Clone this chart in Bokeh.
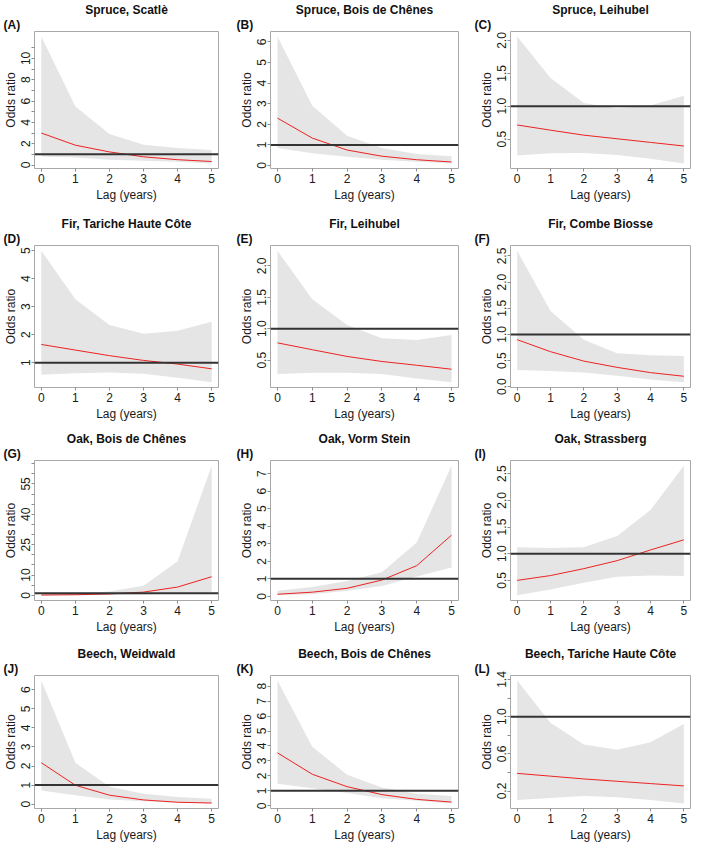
from bokeh.plotting import figure
from bokeh.layouts import gridplot
from bokeh.models import Range1d, FixedTicker, Span, Label
from bokeh.embed import file_html
from bokeh.resources import INLINE

# ---------------- data ----------------
lags = [0, 1, 2, 3, 4, 5]
x_ticks = [0, 1, 2, 3, 4, 5]

letters = ["(A)", "(B)", "(C)", "(D)", "(E)", "(F)",
           "(G)", "(H)", "(I)", "(J)", "(K)", "(L)"]
titles = ["Spruce, Scatlè", "Spruce, Bois de Chênes", "Spruce, Leihubel",
          "Fir, Tariche Haute Côte", "Fir, Leihubel", "Fir, Combe Biosse",
          "Oak, Bois de Chênes", "Oak, Vorm Stein", "Oak, Strassberg",
          "Beech, Weidwald", "Beech, Bois de Chênes", "Beech, Tariche Haute Côte"]

est_a = [3.0, 1.86, 1.23, 0.77, 0.50, 0.33]
lower_a = [0.80, 0.70, 0.50, 0.40, 0.30, 0.15]
upper_a = [12.05, 5.5, 2.9, 1.9, 1.6, 1.4]
yticks_a = [0, 2, 4, 6, 8, 10]
yminor_a = [1, 3, 5, 7, 9, 11]

est_b = [2.30, 1.33, 0.75, 0.45, 0.28, 0.17]
lower_b = [0.85, 0.60, 0.42, 0.28, 0.18, 0.10]
upper_b = [6.26, 2.90, 1.44, 0.85, 0.56, 0.45]
yticks_b = [0, 1, 2, 3, 4, 5, 6]
yminor_b = []

est_c = [0.715, 0.636, 0.56, 0.505, 0.45, 0.395]
lower_c = [0.25, 0.285, 0.29, 0.26, 0.20, 0.13]
upper_c = [2.06, 1.43, 1.05, 0.965, 1.01, 1.16]
yticks_c = [0.5, 1.0, 1.5, 2.0]
yminor_c = []

est_d = [1.65, 1.45, 1.25, 1.08, 0.95, 0.78]
lower_d = [0.57, 0.62, 0.65, 0.60, 0.46, 0.30]
upper_d = [5.0, 3.27, 2.35, 2.03, 2.14, 2.46]
yticks_d = [1, 2, 3, 4, 5]
yminor_d = []

est_e = [0.776, 0.667, 0.56, 0.48, 0.42, 0.357]
lower_e = [0.28, 0.30, 0.30, 0.28, 0.21, 0.15]
upper_e = [2.24, 1.47, 1.06, 0.85, 0.82, 0.90]
yticks_e = [0.5, 1.0, 1.5, 2.0]
yminor_e = []

est_f = [0.90, 0.67, 0.49, 0.37, 0.27, 0.20]
lower_f = [0.32, 0.30, 0.27, 0.21, 0.14, 0.086]
upper_f = [2.60, 1.45, 0.90, 0.64, 0.60, 0.59]
yticks_f = [0.0, 0.5, 1.0, 1.5, 2.0, 2.5]
yminor_f = []

est_g = [0.15, 0.30, 0.70, 1.60, 4.10, 9.20]
lower_g = [0.02, 0.05, 0.20, 0.40, 0.80, 1.50]
upper_g = [0.70, 1.10, 1.90, 4.80, 16.8, 64.0]
yticks_g = [0, 10, 25, 40, 55]
yminor_g = [5, 15, 20, 30, 35, 45, 50, 60, 65]

est_h = [0.12, 0.24, 0.46, 0.93, 1.75, 3.49]
lower_h = [0.06, 0.12, 0.32, 0.59, 1.13, 1.64]
upper_h = [0.32, 0.54, 0.88, 1.38, 3.07, 7.45]
yticks_h = [0, 1, 2, 3, 4, 5, 6, 7]
yminor_h = []

est_i = [0.50, 0.59, 0.72, 0.87, 1.07, 1.26]
lower_i = [0.22, 0.33, 0.455, 0.57, 0.59, 0.58]
upper_i = [1.12, 1.105, 1.12, 1.33, 1.82, 2.65]
yticks_i = [0.5, 1.0, 1.5, 2.0, 2.5]
yminor_i = []

est_j = [2.17, 0.99, 0.47, 0.22, 0.10, 0.06]
lower_j = [0.72, 0.47, 0.25, 0.15, 0.07, 0.03]
upper_j = [6.49, 2.17, 0.91, 0.55, 0.37, 0.28]
yticks_j = [0, 1, 2, 3, 4, 5, 6]
yminor_j = []

est_k = [3.54, 2.11, 1.28, 0.75, 0.43, 0.25]
lower_k = [1.47, 1.17, 0.85, 0.51, 0.34, 0.15]
upper_k = [8.38, 3.95, 2.07, 1.22, 0.81, 0.66]
yticks_k = [0, 1, 2, 3, 4, 5, 6, 7, 8]
yminor_k = []

est_l = [0.39, 0.36, 0.33, 0.305, 0.28, 0.255]
lower_l = [0.104, 0.125, 0.146, 0.134, 0.104, 0.065]
upper_l = [1.39, 0.935, 0.70, 0.645, 0.725, 0.92]
yticks_l = [0.2, 0.6, 1.0, 1.4]
yminor_l = [0.4, 0.8, 1.2]

reference_or = 1.0

panels = [
    (est_a, lower_a, upper_a, yticks_a, yminor_a, "{:g}"),
    (est_b, lower_b, upper_b, yticks_b, yminor_b, "{:g}"),
    (est_c, lower_c, upper_c, yticks_c, yminor_c, "{:.1f}"),
    (est_d, lower_d, upper_d, yticks_d, yminor_d, "{:g}"),
    (est_e, lower_e, upper_e, yticks_e, yminor_e, "{:.1f}"),
    (est_f, lower_f, upper_f, yticks_f, yminor_f, "{:.1f}"),
    (est_g, lower_g, upper_g, yticks_g, yminor_g, "{:g}"),
    (est_h, lower_h, upper_h, yticks_h, yminor_h, "{:g}"),
    (est_i, lower_i, upper_i, yticks_i, yminor_i, "{:.1f}"),
    (est_j, lower_j, upper_j, yticks_j, yminor_j, "{:g}"),
    (est_k, lower_k, upper_k, yticks_k, yminor_k, "{:g}"),
    (est_l, lower_l, upper_l, yticks_l, yminor_l, "{:.1f}"),
]

# ---------------- layout ----------------
FONT = "Liberation Sans"
col_w = [232, 234, 227]
col_left = [32, 38, 44]
col_right = [14, 8, 3]
letter_dx = [-31, -34, -36]
row_h = [214, 215, 215, 200]
row_top = [17, 17, 17, 17]
row_bottom = [46, 42, 44, 34]


def make_panel(k):
    est, lower, upper, yt, ym, fmt = panels[k]
    r, c = divmod(k, 3)
    lo, hi = min(lower), max(upper)
    pad = 0.04 * (hi - lo)
    xpad = 0.04 * (max(lags) - min(lags))
    p = figure(width=col_w[c], height=row_h[r],
               x_range=Range1d(min(lags) - xpad, max(lags) + xpad),
               y_range=Range1d(lo - pad, hi + pad),
               output_backend="svg", toolbar_location=None,
               min_border_left=col_left[c], min_border_right=col_right[c],
               min_border_top=row_top[r], min_border_bottom=row_bottom[r],
               background_fill_color="white", border_fill_color="white")
    p.outline_line_color = "#a8a8a8"
    p.outline_line_width = 1
    p.grid.visible = False

    p.varea(x=lags, y1=lower, y2=upper, fill_color="#e5e5e5", fill_alpha=1.0)
    p.line(x=lags, y=est, line_color="#ee2222", line_width=1)
    p.add_layout(Span(location=reference_or, dimension="width",
                      line_color="#333333", line_width=2))

    for ax in (p.xaxis[0], p.yaxis[0]):
        ax.axis_line_color = None
        ax.major_tick_line_color = "#8c8c8c"
        ax.minor_tick_line_color = "#8c8c8c"
        ax.major_tick_out = 3
        ax.major_tick_in = 0
        ax.minor_tick_out = 3
        ax.minor_tick_in = 0
        ax.major_label_text_font = FONT
        ax.major_label_text_font_size = "12px"
        ax.major_label_text_color = "#1a1a1a"
        ax.axis_label_text_font = FONT
        ax.axis_label_text_font_size = "12px"
        ax.axis_label_text_font_style = "normal"
        ax.axis_label_text_color = "#1a1a1a"

    p.xaxis.ticker = FixedTicker(ticks=x_ticks, minor_ticks=[])
    p.xaxis.axis_label = "Lag (years)"
    p.xaxis.major_label_standoff = 2
    p.xaxis.axis_label_standoff = 2

    p.yaxis.ticker = FixedTicker(ticks=yt, minor_ticks=ym)
    p.yaxis.major_label_overrides = {t: fmt.format(t) for t in yt}
    p.yaxis.major_label_orientation = "parallel"
    p.yaxis.axis_label = "Odds ratio"
    p.yaxis.major_label_standoff = 1
    p.yaxis.axis_label_standoff = 1

    p.title.text = titles[k]
    p.title.align = "center"
    p.title.standoff = 1
    p.title.text_font = FONT
    p.title.text_font_size = "12px"
    p.title.text_font_style = "bold"
    p.title.text_color = "#111111"

    lab = Label(x=letter_dx[c], y=7, x_units="screen", y_units="screen",
                text=letters[k], text_align="left", text_baseline="middle")
    lab.text_font = FONT
    lab.text_font_size = "12px"
    lab.text_font_style = "bold"
    lab.text_color = "#111111"
    p.add_layout(lab, "above")
    return p


figs = [make_panel(k) for k in range(12)]
grid = gridplot([figs[i:i + 3] for i in range(0, 12, 3)], toolbar_location=None)

open("out.html", "w").write(file_html(grid, INLINE))
